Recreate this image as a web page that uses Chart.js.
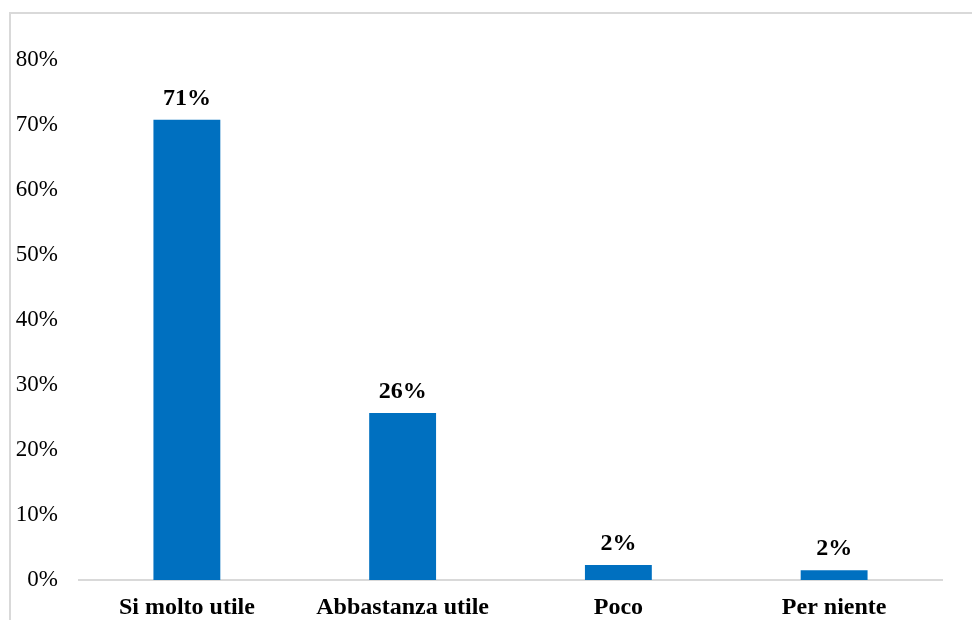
<!DOCTYPE html>
<html>
<head>
<meta charset="utf-8">
<script src="https://cdn.jsdelivr.net/npm/chart.js@4"></script>
<style>
    html, body { margin: 0; padding: 0; background: #fff; }
    #wrap { position: relative; width: 972px; height: 620px; }
    #frame {
        position: absolute; left: 9px; top: 12px; right: 0; bottom: 0;
        border-left: 2px solid #d9d9d9; border-top: 2px solid #d9d9d9;
    }
    canvas { position: absolute; left: 0; top: 0; }
</style>
</head>
<body>
<div id="wrap">
    <div id="frame"></div>
    <canvas id="utilChart" width="972" height="620"></canvas>
</div>
<script>
// Risposte (%)
const categories = ['Si molto utile', 'Abbastanza utile', 'Poco', 'Per niente'];
const percentValues = [70.8, 25.7, 2.3, 1.5];
const tickValues = [0, 10, 20, 30, 40, 50, 60, 70, 80];

const serif = '"Liberation Serif", "Times New Roman", serif';

// etichette sopra le barre
const barLabels = {
    id: 'barLabels',
    afterDatasetsDraw(chart) {
        const ctx = chart.ctx;
        const meta = chart.getDatasetMeta(0);
        ctx.save();
        ctx.font = 'bold 24px ' + serif;
        ctx.fillStyle = '#000';
        ctx.textAlign = 'center';
        ctx.textBaseline = 'alphabetic';
        meta.data.forEach((bar, i) => {
            ctx.fillText(Math.round(percentValues[i]) + '%', bar.x, bar.y - 15);
        });
        ctx.restore();
    }
};

const ctx = document.getElementById('utilChart').getContext('2d');
new Chart(ctx, {
    type: 'bar',
    data: {
        labels: categories,
        datasets: [{
            data: percentValues,
            backgroundColor: '#0070c0',
            barPercentage: 0.62,
            categoryPercentage: 0.5
        }]
    },
    options: {
        responsive: false,
        animation: false,
        layout: { padding: { top: 60, right: 30, left: 0, bottom: 0 } },
        plugins: {
            legend: { display: false },
            tooltip: { enabled: false }
        },
        scales: {
            x: {
                grid: { display: false, drawTicks: false },
                border: { color: '#d9d9d9', width: 2 },
                ticks: {
                    color: '#000',
                    padding: 13,
                    font: { family: serif, size: 24, weight: 'bold' }
                },
                afterFit(scale) { scale.height = 40; }
            },
            y: {
                min: 0,
                max: 80,
                afterBuildTicks(scale) {
                    scale.ticks = tickValues.map(v => ({ value: v }));
                },
                grid: { display: false, drawTicks: false },
                border: { display: false },
                ticks: {
                    color: '#000',
                    padding: 21,
                    font: { family: serif, size: 23 },
                    callback: v => v + '%'
                },
                afterFit(scale) { scale.width = 79; }
            }
        }
    },
    plugins: [barLabels]
});
</script>
</body>
</html>
